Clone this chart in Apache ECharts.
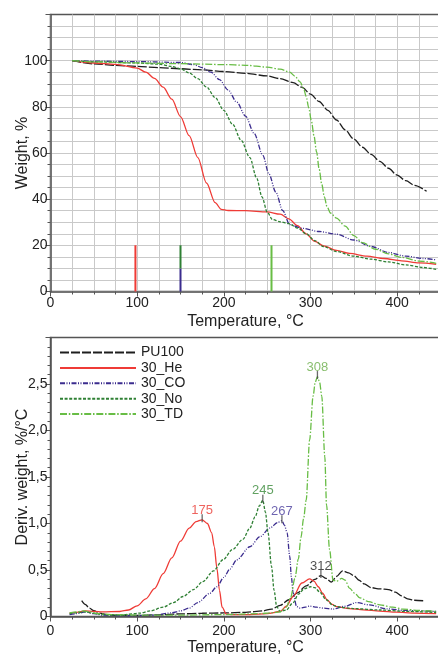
<!DOCTYPE html>
<html>
<head>
<meta charset="utf-8">
<title>TGA / DTG</title>
<script src="https://cdn.jsdelivr.net/npm/echarts@6/dist/echarts.min.js"></script>
<style>
  html, body { margin: 0; padding: 0; background: #fff; }
  #chart { width: 438px; height: 654px; }
</style>
</head>
<body>
<div id="chart"></div>
<script>
// Series names (legend order)
const seriesNames = ['PU100', '30_He', '30_CO', '30_No', '30_TD'];

// TGA: weight (%) vs temperature (°C)
const tgaPU100 = [[25,100],[50,98.6],[75,98],[100,97.5],[125,97],[150,96.5],[175,96],[200,95.3],[225,94.5],[250,93.4],[265,92.2],[280,90.5],[290,88.5],[300,85.5],[310,82.3],[320,78.5],[330,74.3],[340,70],[350,66],[360,62.5],[370,59.4],[380,56.4],[390,53.4],[400,50.4],[410,48],[420,46],[434,43.4]];
const tgaHe = [[25,100],[50,99],[75,98.4],[100,96.8],[110,95],[120,92.3],[130,88.5],[140,83.3],[150,75.8],[160,67.5],[170,58],[180,47],[190,38.5],[197,35.6],[205,35.1],[225,35],[250,34.5],[265,33.5],[275,31.5],[285,28.5],[295,25],[305,21.7],[315,19.8],[330,17.8],[345,16.5],[365,15.3],[385,14.3],[405,13.3],[425,12.4],[445,11.8]];
const tgaCO = [[25,100],[50,99.8],[100,99.6],[150,99.2],[165,98.3],[175,97],[185,95],[195,91.8],[205,87.3],[215,82],[225,76],[235,68.5],[245,59],[252,51],[260,43],[268,35],[276,29],[290,27.4],[310,26],[330,24.8],[350,22.3],[370,19.5],[390,16.9],[410,15.3],[430,14.3],[445,13.7]];
const tgaNo = [[25,100],[50,99.5],[100,99],[125,98.5],[140,97.5],[150,96.5],[160,94.7],[170,92.2],[180,88.6],[190,84],[200,78.5],[210,72.5],[220,65.5],[230,58],[238,49],[244,41],[250,34.5],[256,31.2],[265,30.2],[275,29.4],[285,27.5],[295,25],[305,22],[315,19.5],[330,17.3],[350,15.3],[370,14],[390,12.8],[410,11.5],[430,10.4],[445,9.6]];
const tgaTD = [[25,100],[50,99.5],[100,99],[150,98.7],[200,98.3],[225,98],[250,97.2],[265,96.3],[276,95],[282,93.3],[288,90.8],[292,88],[295,84.5],[298,79.5],[301,74],[304,67.5],[307,60.5],[310,53],[313,46.5],[316,41],[319,36.8],[323,34],[330,31.8],[340,28.3],[350,24.2],[360,21.2],[375,18.3],[390,16.3],[405,14.8],[425,13.2],[445,12.2]];

// Onset marks on the TGA panel: temperature, lower and upper weight
const onsetNames = ['30_He', '30_CO', '30_No', '30_TD'];
const onsetTemps = [98, 150, 150, 255];
const onsetLow = [0, 0, 10, 0];
const onsetHigh = [20, 10, 20, 20];

// DTG: derivative weight (%/°C) vs temperature (°C)
const dtgPU100 = [[36,0.17],[40,0.13],[45,0.09],[50,0.062],[57,0.036],[65,0.02],[75,0.012],[100,0.012],[125,0.018],[150,0.028],[175,0.035],[200,0.038],[225,0.045],[245,0.06],[255,0.08],[265,0.12],[275,0.18],[285,0.255],[295,0.33],[305,0.4],[312,0.44],[318,0.41],[324,0.37],[330,0.43],[337,0.49],[344,0.47],[350,0.44],[356,0.39],[362,0.35],[370,0.31],[380,0.297],[390,0.29],[398,0.262],[405,0.222],[412,0.19],[420,0.175],[432,0.168]];
const dtgHe = [[22,0.036],[30,0.045],[40,0.06],[50,0.055],[60,0.05],[80,0.054],[90,0.07],[100,0.115],[110,0.19],[120,0.3],[130,0.46],[140,0.63],[150,0.81],[160,0.95],[168,1.02],[175,1.04],[181,1.0],[186,0.9],[189,0.75],[192,0.52],[195,0.28],[198,0.1],[203,0.025],[210,0.02],[230,0.02],[250,0.03],[265,0.054],[272,0.11],[280,0.215],[290,0.36],[299,0.405],[304,0.38],[309,0.32],[314,0.25],[319,0.18],[325,0.13],[330,0.107],[345,0.085],[361,0.072],[380,0.058],[399,0.047],[420,0.037],[445,0.03]];
const dtgCO = [[22,0.02],[30,0.03],[40,0.05],[50,0.03],[60,0.015],[80,0.01],[100,0.01],[120,0.015],[140,0.04],[150,0.06],[160,0.09],[170,0.15],[184,0.25],[192,0.32],[200,0.42],[207,0.51],[215,0.61],[230,0.75],[242,0.86],[253,0.95],[262,1.01],[267,1.03],[270,0.98],[273,0.9],[276,0.65],[278,0.42],[280,0.25],[284,0.107],[288,0.09],[294,0.1],[299,0.112],[307,0.1],[315,0.09],[326,0.08],[340,0.11],[353,0.15],[368,0.125],[388,0.083],[410,0.065],[445,0.054]];
const dtgNo = [[22,0.03],[30,0.04],[40,0.05],[50,0.035],[60,0.02],[80,0.015],[103,0.036],[115,0.06],[130,0.1],[142,0.15],[153,0.215],[165,0.29],[176,0.376],[188,0.49],[199,0.61],[210,0.72],[222,0.83],[230,0.95],[236,1.07],[241,1.19],[245,1.25],[248,1.12],[251,0.9],[255,0.54],[258,0.28],[261,0.107],[265,0.054],[272,0.07],[280,0.15],[286,0.24],[293,0.3],[300,0.32],[305,0.31],[311,0.26],[318,0.18],[326,0.12],[334,0.1],[350,0.085],[380,0.07],[410,0.055],[445,0.043]];
const dtgTD = [[22,0.04],[30,0.05],[38,0.06],[45,0.05],[55,0.03],[70,0.02],[100,0.015],[150,0.015],[200,0.02],[240,0.03],[255,0.04],[265,0.05],[272,0.1],[277,0.2],[282,0.41],[286,0.62],[289,0.85],[292,1.05],[295,1.25],[299,1.9],[303,2.37],[305.5,2.52],[308,2.58],[310.5,2.52],[313,2.37],[316.5,1.72],[318.5,1.2],[322,0.72],[326,0.39],[330,0.38],[336,0.41],[340,0.39],[345,0.305],[351,0.25],[357,0.2],[367,0.16],[380,0.125],[395,0.1],[407,0.08],[425,0.065],[445,0.054]];

// Labelled DTG maxima
const peakNames = ['30_He', '30_No', '30_CO', 'PU100', '30_TD'];
const peakTemps = [175, 245, 267, 312, 308];
const peakValues = [1.04, 1.25, 1.03, 0.44, 2.58];

// Axis ranges and ticks
const tempMax = 450, tempStep = 100;
const weightMax = 120, weightStep = 20;
const derivMax = 3.0, derivStep = 0.5;

const colors = {
  'PU100': '#1e1e1e',
  '30_He': '#ef3b36',
  '30_CO': '#3b2c8e',
  '30_No': '#2f8034',
  '30_TD': '#68bd45'
};
const labelColors = {
  'PU100': '#1e1e1e',
  '30_He': '#ea3c36',
  '30_CO': '#4a3d9c',
  '30_No': '#3a8a3a',
  '30_TD': '#6aae48'
};
const dashes = {
  'PU100': [9, 2],
  '30_He': 'solid',
  '30_CO': [5, 1.5, 1, 1.5, 1, 1.5],
  '30_No': [3, 1.6],
  '30_TD': [7, 1.8, 1.5, 1.8]
};

const FONT = '"Liberation Sans", Arial, sans-serif';
const INK = '#222';
const AXIS = '#555';

function curve(name, data, axisIdx) {
  return {
    type: 'line',
    name: name,
    data: data,
    xAxisIndex: axisIdx,
    yAxisIndex: axisIdx,
    smooth: 0.3,
    smoothMonotone: 'x',
    symbol: 'none',
    silent: true,
    z: 3,
    lineStyle: { color: colors[name], width: 1.3, type: dashes[name] },
    itemStyle: { color: colors[name] }
  };
}

const series = [];
const tga = [tgaPU100, tgaHe, tgaCO, tgaNo, tgaTD];
const dtg = [dtgPU100, dtgHe, dtgCO, dtgNo, dtgTD];
seriesNames.forEach((n, i) => series.push(curve(n, tga[i], 0)));
seriesNames.forEach((n, i) => series.push(curve(n, dtg[i], 1)));

// Onset bars
onsetTemps.forEach((t, i) => {
  series.push({
    type: 'line',
    data: [[t, onsetLow[i]], [t, onsetHigh[i]]],
    xAxisIndex: 0, yAxisIndex: 0,
    symbol: 'none', silent: true, z: 4,
    lineStyle: { color: colors[onsetNames[i]], width: 2, type: 'solid' }
  });
});

// Peak ticks with temperature labels
series.push({
  type: 'scatter',
  xAxisIndex: 1, yAxisIndex: 1,
  symbol: 'rect',
  symbolSize: [1.3, 8],
  symbolOffset: [0, -1.5],
  silent: true,
  z: 5,
  itemStyle: { color: '#444' },
  data: peakTemps.map((t, i) => ({
    value: [t, peakValues[i]],
    label: {
      show: true,
      position: 'top',
      distance: -2.5,
      formatter: String(t),
      color: labelColors[peakNames[i]],
      fontSize: 13,
      fontFamily: FONT
    }
  }))
});

function tempAxis(gridIndex, labelMargin, nameGap) {
  return {
    type: 'value',
    gridIndex: gridIndex,
    min: 0, max: tempMax, interval: tempStep,
    name: 'Temperature, °C',
    nameLocation: 'middle',
    nameGap: nameGap,
    nameMoveOverlap: false,
    nameTextStyle: { fontSize: 16, color: INK, fontFamily: FONT },
    axisLine: { show: true, onZero: false, lineStyle: { color: AXIS, width: 1.5 } },
    axisTick: { show: true, inside: false, length: 5, lineStyle: { color: AXIS, width: 1 } },
    minorTick: { show: true, splitNumber: 4, length: 3, lineStyle: { color: AXIS, width: 1 } },
    axisLabel: {
      show: true, margin: labelMargin, fontSize: 14, color: INK, fontFamily: FONT,
      showMaxLabel: false,
      formatter: v => (v > 400 ? '' : String(v))
    },
    splitLine: { show: gridIndex === 0, showMaxLine: false, lineStyle: { color: '#c9c9c9', width: 1 } },
    minorSplitLine: { show: gridIndex === 0, lineStyle: { color: '#c9c9c9', width: 1 } }
  };
}

function valueAxisBase(gridIndex, name) {
  return {
    type: 'value', gridIndex: gridIndex,
    name: name, nameLocation: 'middle', nameGap: 20,
    nameMoveOverlap: false,
    nameTextStyle: { fontSize: 16, color: INK, fontFamily: FONT },
    axisLine: { show: true, onZero: false, lineStyle: { color: AXIS, width: 1.5 } },
    axisTick: { show: true, length: 5, lineStyle: { color: AXIS, width: 1 } }
  };
}

const option = {
  animation: false,
  backgroundColor: '#ffffff',
  textStyle: { fontFamily: FONT },
  grid: [
    { left: 50.5, top: 14.5, width: 390, height: 277, show: true, borderColor: AXIS, borderWidth: 1.5, backgroundColor: 'transparent', containLabel: false, outerBoundsMode: 'none' },
    { left: 50.5, top: 337.5, width: 390, height: 279, show: true, borderColor: AXIS, borderWidth: 1.5, backgroundColor: 'transparent', containLabel: false, outerBoundsMode: 'none' }
  ],
  legend: {
    show: true,
    data: seriesNames,
    orient: 'vertical',
    left: 59,
    top: 345.5,
    itemWidth: 76,
    itemHeight: 14,
    itemGap: 1.4,
    padding: 0,
    selectedMode: false,
    itemStyle: { opacity: 0 },
    textStyle: { fontSize: 14, color: INK, fontFamily: FONT },
    backgroundColor: 'transparent'
  },
  xAxis: [tempAxis(0, 5, 22), tempAxis(1, 8, 23.5)],
  yAxis: [
    Object.assign(valueAxisBase(0, 'Weight, %'), {
      min: 0, max: weightMax, interval: weightStep,
      minorTick: { show: true, splitNumber: 4, length: 3, lineStyle: { color: AXIS, width: 1 } },
      axisLabel: {
        margin: 3, fontSize: 14, color: INK, fontFamily: FONT,
        formatter: v => (v > 100 ? '' : String(v))
      },
      splitLine: { show: true, showMaxLine: false, lineStyle: { color: '#c9c9c9', width: 1 } },
      minorSplitLine: { show: true, lineStyle: { color: '#c9c9c9', width: 1 } }
    }),
    Object.assign(valueAxisBase(1, 'Deriv. weight, %/°C'), {
      min: 0, max: derivMax, interval: derivStep,
      minorTick: { show: true, splitNumber: 5, length: 3, lineStyle: { color: AXIS, width: 1 } },
      axisLabel: {
        margin: 3, fontSize: 14, color: INK, fontFamily: FONT,
        formatter: v => (v >= derivMax ? '' : (v === 0 ? '0' : v.toFixed(1).replace('.', ',')))
      },
      splitLine: { show: false },
      minorSplitLine: { show: false }
    })
  ],
  series: series
};

const chart = echarts.init(document.getElementById('chart'), null, { renderer: 'canvas' });
chart.setOption(option);
</script>
</body>
</html>
